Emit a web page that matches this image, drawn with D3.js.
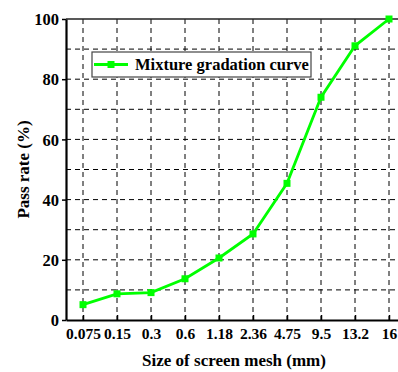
<!DOCTYPE html>
<html>
<head>
<meta charset="utf-8">
<script src="https://cdn.jsdelivr.net/npm/d3@7"></script>
<style>
  body { margin: 0; background: #fff; }
  svg text { font-family: "Liberation Serif", "Times New Roman", serif; font-weight: bold; fill: #000; }
</style>
</head>
<body>
<svg id="chart" width="398" height="372"></svg>
<script>
// sieve sizes (mm) and passing percentage
var sizes = ["0.075", "0.15", "0.3", "0.6", "1.18", "2.36", "4.75", "9.5", "13.2", "16"];
var passRate = [5.1, 8.7, 9.1, 13.7, 20.6, 28.6, 45.4, 74.0, 91.1, 100];
var yTicks = [0, 20, 40, 60, 80, 100];
var yGrid = [10, 20, 30, 40, 50, 60, 70, 80, 90];
var seriesName = "Mixture gradation curve";

var margin = { top: 19, right: -8, bottom: 52, left: 66 },
    width = 398 - margin.left - margin.right,
    height = 372 - margin.top - margin.bottom;

var svg = d3.select("#chart")
    .append("g")
    .attr("transform", "translate(" + margin.left + "," + margin.top + ")");

var x = d3.scalePoint().domain(sizes).range([0, width]).padding(0.5);
var y = d3.scaleLinear().domain([0, 100]).range([height, 0]);

// dashed grid
svg.append("g").selectAll("line")
    .data(yGrid).enter().append("line")
    .attr("x1", 0).attr("x2", width)
    .attr("y1", function(d) { return y(d); })
    .attr("y2", function(d) { return y(d); })
    .style("stroke", "#000").style("stroke-width", 1)
    .style("stroke-dasharray", "5,4");

svg.append("g").selectAll("line")
    .data(sizes).enter().append("line")
    .attr("x1", function(d) { return x(d); })
    .attr("x2", function(d) { return x(d); })
    .attr("y1", 0).attr("y2", height)
    .style("stroke", "#000").style("stroke-width", 1)
    .style("stroke-dasharray", "5,4");

// top frame
svg.append("line")
    .attr("x1", 0).attr("x2", width).attr("y1", 0).attr("y2", 0)
    .style("stroke", "#222").style("stroke-width", 1.5);

// axes
var xAxis = svg.append("g")
    .attr("transform", "translate(0," + height + ")")
    .call(d3.axisBottom(x).tickSizeInner(-5).tickSizeOuter(0).tickPadding(8));
var yAxis = svg.append("g")
    .call(d3.axisLeft(y).tickValues(yTicks).tickSizeInner(4).tickSizeOuter(0).tickPadding(3));

[xAxis, yAxis].forEach(function(a) {
    a.select(".domain").style("stroke", "#000").style("stroke-width", 2.2);
    a.selectAll(".tick line").style("stroke", "#000").style("stroke-width", 1.5);
    a.selectAll("text").attr("font-family", null).attr("font-size", null);
});
xAxis.selectAll(".tick text").style("font-size", "15.5px");
yAxis.selectAll(".tick text").style("font-size", "16.5px").attr("dy", "0.35em");

// curve
var line = d3.line()
    .x(function(d, i) { return x(sizes[i]); })
    .y(function(d) { return y(d); });

svg.append("path")
    .datum(passRate)
    .attr("d", line)
    .style("fill", "none")
    .style("stroke", "#00ff00")
    .style("stroke-width", 2.8);

svg.append("g").selectAll("rect")
    .data(passRate).enter().append("rect")
    .attr("x", function(d, i) { return x(sizes[i]) - 3.5; })
    .attr("y", function(d) { return y(d) - 3.5; })
    .attr("width", 7).attr("height", 7)
    .style("fill", "#00ff00");

// legend
var legend = svg.append("g").attr("transform", "translate(26,33)");
legend.append("rect")
    .attr("width", 219).attr("height", 25)
    .style("fill", "#fff").style("stroke", "#444").style("stroke-width", 1.2);
legend.append("line")
    .attr("x1", 2).attr("x2", 36).attr("y1", 12.5).attr("y2", 12.5)
    .style("stroke", "#00ff00").style("stroke-width", 2.8);
legend.append("rect")
    .attr("x", 15.5).attr("y", 9).attr("width", 7).attr("height", 7)
    .style("fill", "#00ff00");
legend.append("text")
    .attr("x", 43).attr("y", 18)
    .style("font-size", "16.5px")
    .text(seriesName);

// axis titles
svg.append("text")
    .attr("x", 234 - margin.left)
    .attr("y", height + 46)
    .attr("text-anchor", "middle")
    .style("font-size", "17px")
    .text("Size of screen mesh (mm)");

svg.append("text")
    .attr("transform", "translate(" + (29 - margin.left) + "," + (y(50)) + ") rotate(-90)")
    .attr("text-anchor", "middle")
    .style("font-size", "17px")
    .text("Pass rate (%)");
</script>
</body>
</html>
